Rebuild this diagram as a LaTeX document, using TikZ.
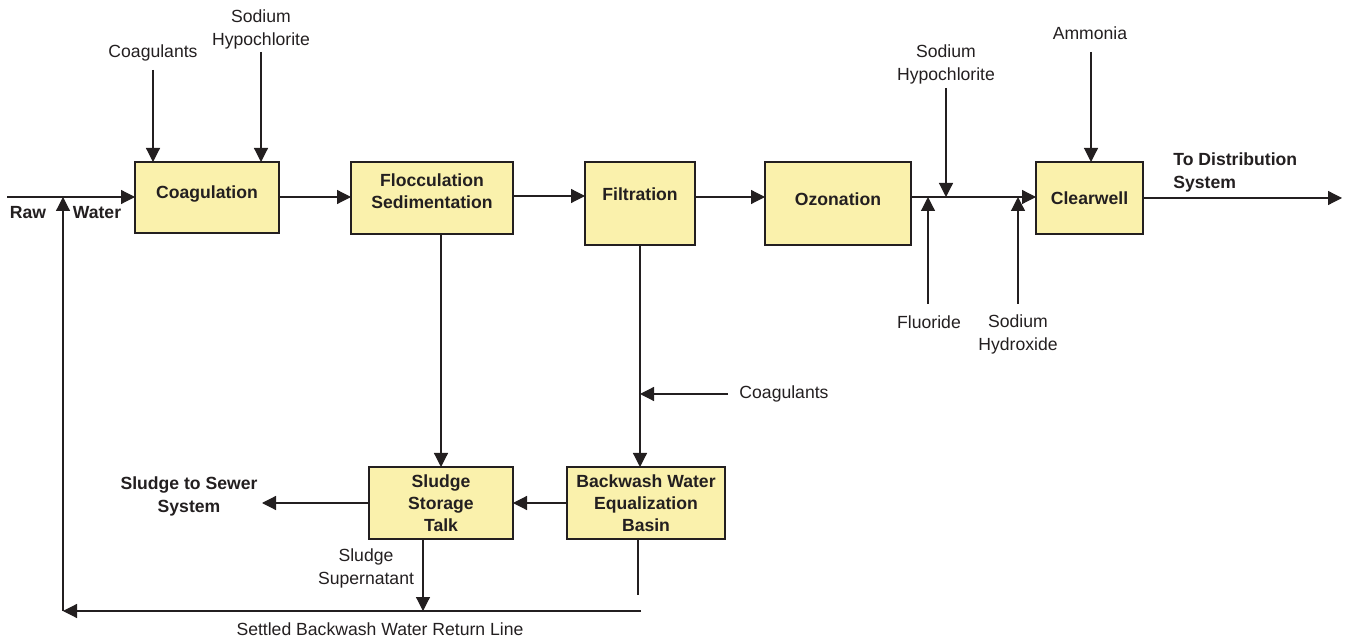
\documentclass[tikz,border=0pt]{standalone}
\usepackage{fontspec}
\setmainfont{Liberation Sans}
\usetikzlibrary{arrows.meta}
\definecolor{boxfill}{RGB}{250,241,172}
\definecolor{ink}{RGB}{35,31,32}
\begin{document}
\begin{tikzpicture}[x=0.5pt,y=-0.5pt,
  every node/.style={font=\fontsize{8.8}{11.5}\selectfont, text=ink},
  box/.style={draw=ink, fill=boxfill, line width=1pt, rectangle, inner sep=0pt, outer sep=0pt,
    align=center, font=\fontsize{8.8}{11}\selectfont\bfseries},
  boxtext/.style={box, draw=none, fill=none},
  lbl/.style={align=center, inner sep=0pt},
  blbl/.style={align=center, inner sep=0pt, font=\fontsize{8.8}{11.5}\selectfont\bfseries},
  flow/.style={draw=ink, line width=0.6pt, -{Triangle[length=7pt,width=7pt]}},
  pipe/.style={draw=ink, line width=0.6pt}]
\useasboundingbox (0,0) rectangle (1349,641);

% process units
\node[box, minimum width=72pt, minimum height=35.5pt,
  label={[boxtext, yshift=1.75pt]center:Coagulation}] (coag) at (207,197.5) {};
\node[box, minimum width=81pt, minimum height=36pt,
  label={[boxtext, yshift=3.5pt]center:Flocculation\\Sedimentation}] (floc) at (432,198) {};
\node[box, minimum width=55pt, minimum height=41.5pt,
  label={[boxtext, yshift=4.75pt]center:Filtration}] (filt) at (640,203.5) {};
\node[box, minimum width=73pt, minimum height=41.5pt,
  label={[boxtext, yshift=2.25pt]center:Ozonation}] (ozon) at (838,203.5) {};
\node[box, minimum width=53.5pt, minimum height=36pt] (clear) at (1089.5,198) {Clearwell};
\node[box, minimum width=72pt, minimum height=36pt] (sludge) at (441,503) {Sludge\\Storage\\Talk};
\node[box, minimum width=79pt, minimum height=36pt] (bw) at (646,503) {Backwash Water\\Equalization\\Basin};

% free ends of the lines
\coordinate (mainy) at (0,197);
\coordinate (rawin) at (7,197);
\coordinate (out) at (1342,198);
\coordinate (coagA) at (153,70);
\coordinate (hypoA) at (261,52);
\coordinate (hypoB) at (946,88);
\coordinate (fluo) at (928,304);
\coordinate (naoh) at (1018,304);
\coordinate (ammo) at (1091,52);
\coordinate (coagB) at (728,394);
\coordinate (sewer) at (262,503);
\coordinate (supx) at (423,611);
\coordinate (bwend) at (638,595);
\coordinate (retR) at (641,611);
\coordinate (retL) at (63,611);

% main treatment train
\draw[flow] (rawin) -- (rawin -| coag.west);
\draw[flow] (coag.east |- mainy) -- (floc.west |- mainy);
\draw[flow] (floc.east |- 0,196) -- (filt.west |- 0,196);
\draw[flow] (filt.east |- mainy) -- (ozon.west |- mainy);
\draw[flow] (ozon.east |- mainy) -- (clear.west |- mainy);
\draw[flow] (clear.east) -- (out);

% chemical feeds
\draw[flow] (coagA) -- (coagA |- coag.north);
\draw[flow] (hypoA) -- (hypoA |- coag.north);
\draw[flow] (hypoB) -- (hypoB |- mainy);
\draw[flow] (fluo) -- (fluo |- mainy);
\draw[flow] (naoh) -- (naoh |- mainy);
\draw[flow] (ammo) -- (ammo |- clear.north);
\draw[flow] (coagB) -- (coagB -| filt.south);

% residuals handling
\draw[flow] (sludge.north |- floc.south) -- (sludge.north);
\draw[flow] (filt.south) -- (filt.south |- bw.north);
\draw[flow] (bw.west) -- (sludge.east);
\draw[flow] (sludge.west) -- (sewer);
\draw[flow] (supx |- sludge.south) -- (supx);
\draw[pipe] (bwend |- bw.south) -- (bwend);
\draw[flow] (retR) -- (retL);
\draw[flow] (retL) -- (retL |- rawin);

% labels
\node[lbl] (tCoagA) at (153,53) {Coagulants};
\node[lbl] (tHypoA) at (261,29) {Sodium\\Hypochlorite};
\node[lbl] (tHypoB) at (946,64.5) {Sodium\\Hypochlorite};
\node[lbl] (tAmmo) at (1090,33) {Ammonia};
\node[lbl] (tFluo) at (929,322) {Fluoride};
\node[lbl] (tNaoh) at (1018,334) {Sodium\\Hydroxide};
\node[blbl, align=left, anchor=west] (tOut) at (1173,172) {To Distribution\\System};
\node[blbl] (tRaw) at (28,213) {Raw};
\node[blbl] (tWater) at (97,213) {Water};
\node[lbl] (tCoagB) at (784,394) {Coagulants};
\node[blbl] (tSewer) at (189,496) {Sludge to Sewer\\System};
\node[lbl] (tSuper) at (366,568.5) {Sludge\\Supernatant};
\node[lbl] (tReturn) at (380,629) {Settled Backwash Water Return Line};
\end{tikzpicture}
\end{document}
